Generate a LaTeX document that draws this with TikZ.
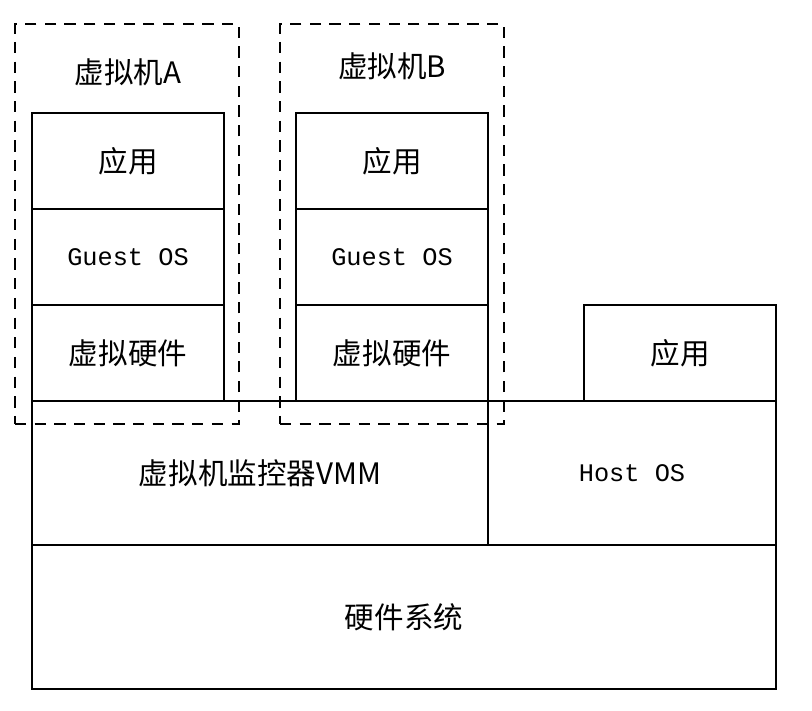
\documentclass[tikz,border=0pt]{standalone}
\usepackage{fontspec}
\usepackage{tikz}
\usetikzlibrary{positioning}
\newfontfamily\cjk{Noto Sans CJK SC}
\setmonofont{Liberation Mono}
\tikzset{
  layer/.style   = {rectangle, draw=black, line width=1.8pt, inner sep=0pt,
                    minimum width=4.8cm, minimum height=2.4cm,
                    align=center, font=\cjk\fontsize{21}{24}\selectfont},
  oslayer/.style = {layer, font=\ttfamily\fontsize{18}{22}\selectfont},
  vmframe/.style = {rectangle, draw=black, line width=0.8pt,
                    dash pattern=on 8pt off 6pt, inner sep=0pt,
                    minimum width=5.6cm, minimum height=10cm},
  vmtitle/.style = {inner sep=0pt, font=\cjk\fontsize{21}{24}\selectfont},
}

\begin{document}
\begin{tikzpicture}

  \useasboundingbox (0,0) rectangle (20.3,17.75);

  % virtual machine frames
  \node[vmframe] (vmA) at (3.175,12.15) {};
  \node[vmframe] (vmB) at (9.8,12.15) {};
  \node[vmtitle] (titleA) at (3.2,15.95) {虚拟机A};
  \node[vmtitle] (titleB) at (9.8,16.1) {虚拟机B};

  % guest stacks
  \node[layer] (appA) at (3.2,13.725) {应用};
  \node[oslayer] (guestA) at (3.2,11.325) {Guest OS};
  \node[layer] (hwA) at (3.2,8.925) {虚拟硬件};

  \node[layer] (appB) at (9.8,13.725) {应用};
  \node[oslayer] (guestB) at (9.8,11.325) {Guest OS};
  \node[layer] (hwB) at (9.8,8.925) {虚拟硬件};

  % host side
  \node[layer] (appH) at (17.0,8.925) {应用};
  \node[layer, minimum width=11.4cm, minimum height=3.6cm] (vmm) at (6.5,5.925) {虚拟机监控器VMM};
  \node[oslayer, minimum width=7.2cm, minimum height=3.6cm] (host) at (15.8,5.925) {Host OS};
  \node[layer, minimum width=18.6cm, minimum height=3.6cm] (hw) at (10.1,2.325) {硬件系统};

\end{tikzpicture}
\end{document}
